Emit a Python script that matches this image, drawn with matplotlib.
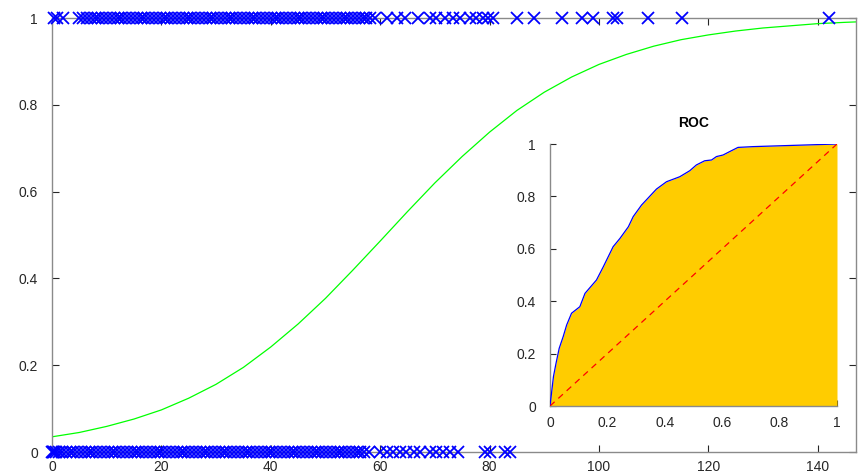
import matplotlib
matplotlib.use("Agg")
import matplotlib.pyplot as plt

# ---- data ----
# observations with outcome 1
x_pos = [0.3, 1.0, 2.0,
         5.0, 5.7, 6.4, 7.1, 7.8, 8.5, 9.2, 9.9, 10.6, 11.3, 12.0, 12.7, 13.4, 14.1,
         14.8, 15.5, 16.2, 16.9, 17.6, 18.3, 19.0, 19.7, 20.4, 21.1, 21.8, 22.5, 23.2,
         23.9, 24.6, 25.3, 26.0, 26.7, 27.4, 28.1, 28.8, 29.5, 30.2, 30.9, 31.6, 32.3,
         33.0, 33.7, 34.4, 35.1, 35.8, 36.5, 37.2, 37.9, 38.6, 39.3, 40.0, 40.7, 41.4,
         42.1, 42.8, 43.5, 44.2, 44.9, 45.6, 46.3, 47.0, 47.7, 48.4, 49.1, 49.8, 50.5,
         51.2, 51.9, 52.6, 53.3, 54.0, 54.7, 55.4, 56.1, 56.8, 57.5, 58.2, 59.0,
         61.2, 63.0, 64.5, 66.9, 69.1, 70.3, 71.8, 73.3, 74.6, 76.4, 77.6, 78.8, 79.7, 80.6,
         85.0, 88.1, 93.2, 96.9, 98.9, 102.6, 103.3, 109.0, 115.2, 142.0]
# observations with outcome 0
x_neg = [0.0, 0.1, 0.2, 0.4, 0.7, 1.2, 1.8, 2.5, 3.2, 3.9, 4.6, 5.3, 6.0, 6.7, 7.4,
         8.1, 8.8, 9.5, 10.2, 10.9, 11.6, 12.3, 13.0, 13.7, 14.4, 15.1, 15.8, 16.5,
         17.2, 17.9, 18.6, 19.3, 20.0, 20.7, 21.4, 22.1, 22.8, 23.5, 24.2, 24.9, 25.6,
         26.3, 27.0, 27.7, 28.4, 29.1, 29.8, 30.5, 31.2, 31.9, 32.6, 33.3, 34.0, 34.7,
         35.4, 36.1, 36.8, 37.5, 38.2, 38.9, 39.6, 40.3, 41.0, 41.7, 42.4, 43.1, 43.8,
         44.5, 45.2, 45.9, 46.6, 47.3, 48.0, 48.7, 49.4, 50.1, 50.8, 51.5, 52.2, 52.9,
         53.6, 54.3, 55.0, 55.7, 56.4, 57.1, 58.0,
         60.0, 61.2, 62.4, 63.6, 64.8, 66.1, 67.3, 69.1, 70.3, 71.5, 72.8, 74.3,
         79.2, 80.1, 82.8, 83.7]

# fitted probability curve
curve_x = [0, 5, 10, 15, 20, 25, 30, 35, 40, 45, 50, 55, 60, 65, 70, 75, 80, 85,
           90, 95, 100, 105, 110, 115, 120, 125, 130, 135, 140, 145, 147]
curve_y = [0.035, 0.045, 0.059, 0.076, 0.097, 0.124, 0.156, 0.195, 0.242, 0.295,
           0.354, 0.419, 0.486, 0.554, 0.620, 0.681, 0.737, 0.787, 0.829, 0.864,
           0.893, 0.916, 0.935, 0.950, 0.961, 0.970, 0.977, 0.982, 0.987, 0.990, 0.991]

# ROC curve
roc_fpr = [0.0, 0.012, 0.021, 0.032, 0.046, 0.058, 0.075, 0.104, 0.122, 0.162,
           0.186, 0.203, 0.220, 0.244, 0.273, 0.290, 0.319, 0.371, 0.406, 0.452,
           0.487, 0.510, 0.539, 0.563, 0.580, 0.603, 0.626, 0.655, 0.708, 1.0]
roc_tpr = [0.0, 0.112, 0.163, 0.220, 0.265, 0.309, 0.354, 0.379, 0.430, 0.481,
           0.532, 0.570, 0.608, 0.640, 0.684, 0.723, 0.767, 0.828, 0.856, 0.875,
           0.898, 0.920, 0.936, 0.939, 0.952, 0.958, 0.971, 0.987, 0.990, 1.0]

main_xticks = [0, 20, 40, 60, 80, 100, 120, 140]
main_yticks = [0, 0.2, 0.4, 0.6, 0.8, 1]
roc_ticks = [0, 0.2, 0.4, 0.6, 0.8, 1]

plt.rcParams['font.family'] = ['Liberation Sans', 'DejaVu Sans']

W, H = 861, 475
fig = plt.figure(figsize=(W / 100, H / 100), dpi=100)

spine_col = '#8a8a8a'
text_col = '#262626'

# ---- main axes ----
ax = fig.add_axes([52 / W, 1 - 452 / H, (856 - 52) / W, (452 - 18) / H])
ax.plot(x_pos, [1] * len(x_pos), 'x', color='blue', markersize=9, mew=1.3,
        clip_on=False, zorder=4)
ax.plot(x_neg, [0] * len(x_neg), 'x', color='blue', markersize=9, mew=1.3,
        clip_on=False, zorder=4)
ax.plot(curve_x, curve_y, '-', color='#00ff00', lw=0.9)
ax.set_xlim(0, 147)
ax.set_ylim(0, 1)
ax.set_xticks(main_xticks)
ax.set_xticklabels([str(t) for t in main_xticks])
ax.set_yticks(main_yticks)
ax.set_yticklabels(['0', '0.2', '0.4', '0.6', '0.8', '1'])
ax.tick_params(direction='in', length=5, width=0.8, color=text_col,
               top=True, right=True, labelsize=10, labelcolor=text_col, pad=10)
ax.tick_params(axis='x', pad=6)
for s in ax.spines.values():
    s.set_color(spine_col)
    s.set_linewidth(1.0)

# ---- inset ROC axes ----
ins = fig.add_axes([550 / W, 1 - 406 / H, (837 - 550) / W, (406 - 144) / H])
ins.fill_between(roc_fpr, roc_tpr, 0, color='#ffcc00', lw=0, zorder=1)
ins.plot(roc_fpr, roc_tpr, '-', color='blue', lw=0.9, zorder=3)
ins.plot([0, 1], [0, 1], '--', color='red', lw=0.9, dashes=(5, 4), zorder=3)
ins.set_xlim(0, 1)
ins.set_ylim(0, 1)
ins.set_xticks(roc_ticks)
ins.set_xticklabels(['0', '0.2', '0.4', '0.6', '0.8', '1'])
ins.set_yticks(roc_ticks)
ins.set_yticklabels(['0', '0.2', '0.4', '0.6', '0.8', '1'])
ins.set_axisbelow(True)
ins.tick_params(direction='in', length=4, width=0.8, color=text_col,
                labelsize=10, labelcolor=text_col, pad=10)
ins.tick_params(axis='x', pad=7)
ins.patch.set_alpha(0)
ins.spines['top'].set_visible(False)
ins.spines['right'].set_visible(False)
for s in ('left', 'bottom'):
    ins.spines[s].set_color(spine_col)
    ins.spines[s].set_linewidth(1.0)
ins.set_title('ROC', fontsize=10, fontweight='bold', color='black', pad=12)

fig.savefig('out.png', dpi=100)
